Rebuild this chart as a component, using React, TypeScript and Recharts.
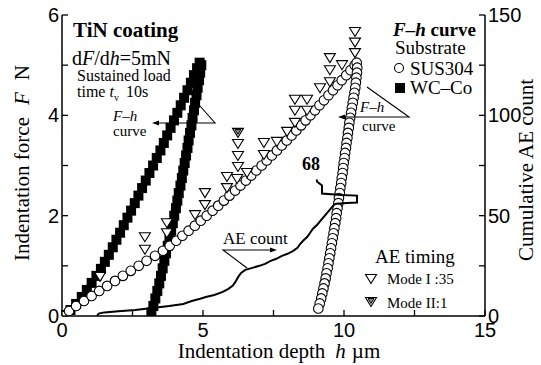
import React from 'react';
import { ComposedChart, Scatter, XAxis, YAxis } from 'recharts';

const SANS = "'Liberation Sans', Arial, sans-serif";
const SERIF = "'Liberation Serif', 'Times New Roman', serif";

// axes
const depthTicks = [0, 2.5, 5, 7.5, 10, 12.5, 15];
const depthLabels = [0, 5, 10, 15];
const topTicks = [5, 10];
const forceTicks = [0, 1, 2, 3, 4, 5, 6];
const forceLabels = [0, 2, 4, 6];
const countTicks = [0, 25, 50, 75, 100, 125, 150];
const countLabels = [0, 50, 100, 150];

// SUS304 F-h curve, [h µm, F N]
const susLoading = [
  [0, 0], [0.25, 0.1], [0.5, 0.2], [0.78, 0.3], [1.05, 0.4], [1.32, 0.5], [1.6, 0.6], [1.88, 0.7],
  [2.16, 0.8], [2.44, 0.9], [2.72, 1.0], [3.0, 1.1], [3.3, 1.2], [3.58, 1.3], [3.82, 1.4], [4.05, 1.5],
  [4.27, 1.6], [4.49, 1.7], [4.71, 1.8], [4.92, 1.9], [5.13, 2.0], [5.34, 2.1], [5.54, 2.2], [5.74, 2.3],
  [5.94, 2.4], [6.14, 2.5], [6.33, 2.6], [6.52, 2.7], [6.71, 2.8], [6.89, 2.9], [7.08, 3.0], [7.26, 3.1],
  [7.44, 3.2], [7.62, 3.3], [7.79, 3.4], [7.97, 3.5], [8.14, 3.6], [8.31, 3.7], [8.48, 3.8], [8.64, 3.9],
  [8.81, 4.0], [8.97, 4.1], [9.13, 4.2], [9.29, 4.3], [9.45, 4.4], [9.61, 4.5], [9.77, 4.6], [9.92, 4.7],
  [10.08, 4.8], [10.23, 4.9], [10.38, 5.0], [10.45, 5.05],
];
const susUnloading = [
  [10.47, 4.95], [10.46, 4.85], [10.44, 4.75], [10.42, 4.65], [10.4, 4.55], [10.37, 4.45], [10.34, 4.35],
  [10.31, 4.25], [10.28, 4.15], [10.25, 4.05], [10.22, 3.95], [10.19, 3.85], [10.17, 3.75], [10.14, 3.65],
  [10.12, 3.55], [10.09, 3.45], [10.07, 3.35], [10.04, 3.25], [10.02, 3.15], [9.99, 3.05], [9.97, 2.95],
  [9.95, 2.85], [9.92, 2.75], [9.9, 2.65], [9.87, 2.55], [9.85, 2.45], [9.82, 2.35], [9.8, 2.25],
  [9.77, 2.15], [9.74, 2.05], [9.72, 1.95], [9.69, 1.85], [9.66, 1.75], [9.63, 1.65], [9.6, 1.55],
  [9.57, 1.45], [9.54, 1.35], [9.51, 1.25], [9.48, 1.15], [9.45, 1.05], [9.42, 0.95], [9.38, 0.85],
  [9.35, 0.75], [9.31, 0.65], [9.27, 0.55], [9.23, 0.45], [9.19, 0.35], [9.14, 0.25], [9.09, 0.15],
];

// WC-Co F-h curve
const wcLoading = [
  [0.1, 0.02], [0.3, 0.12], [0.5, 0.24], [0.7, 0.38], [0.88, 0.52], [1.05, 0.66], [1.22, 0.8], [1.38, 0.94],
  [1.52, 1.08], [1.66, 1.22], [1.8, 1.37], [1.93, 1.52], [2.06, 1.66], [2.19, 1.81], [2.32, 1.96], [2.45, 2.1],
  [2.58, 2.25], [2.71, 2.4], [2.84, 2.55], [2.97, 2.7], [3.1, 2.85], [3.23, 3.0], [3.36, 3.15], [3.49, 3.3],
  [3.61, 3.45], [3.73, 3.6], [3.85, 3.75], [3.97, 3.9], [4.09, 4.05], [4.21, 4.2], [4.33, 4.35], [4.45, 4.5],
  [4.57, 4.65], [4.68, 4.8], [4.79, 4.94], [4.88, 5.05],
];
const wcUnloading = [
  [4.94, 5.0], [4.9, 4.85], [4.86, 4.7], [4.81, 4.55], [4.77, 4.4], [4.72, 4.25], [4.68, 4.1], [4.63, 3.95],
  [4.59, 3.8], [4.54, 3.65], [4.49, 3.5], [4.45, 3.35], [4.4, 3.2], [4.35, 3.05], [4.3, 2.9], [4.25, 2.75],
  [4.2, 2.6], [4.14, 2.45], [4.09, 2.3], [4.04, 2.15], [3.98, 2.0], [3.93, 1.85], [3.87, 1.7], [3.81, 1.55],
  [3.75, 1.4], [3.69, 1.25], [3.63, 1.1], [3.57, 0.95], [3.51, 0.8], [3.45, 0.65], [3.38, 0.5], [3.31, 0.35],
  [3.24, 0.2], [3.17, 0.07],
];

// AE timing events
const modeI = [
  [10.39, 5.66], [10.39, 5.45], [10.39, 5.24], [9.5, 5.14], [9.93, 5.0], [9.5, 4.9], [9.5, 4.66], [9.15, 4.54],
  [8.26, 4.31], [8.69, 4.31], [8.26, 4.09], [8.69, 4.09], [8.26, 3.85], [7.98, 3.67], [7.16, 3.45], [7.62, 3.47],
  [7.16, 3.21], [6.24, 3.43], [6.24, 3.19], [6.24, 2.97], [6.56, 2.85], [5.85, 2.77], [6.21, 2.73], [5.85, 2.55],
  [5.07, 2.45], [5.07, 2.21], [4.72, 2.01], [3.72, 1.85], [3.72, 1.65], [2.94, 1.57], [2.94, 1.32], [1.35, 0.78],
];
const modeII = [[6.24, 3.65]];

// cumulative AE count, [h µm, count]
const aeCount = [
  [1.24, 0], [1.3, 1.2], [1.5, 1.8], [2.0, 2.4], [2.6, 3.0], [3.2, 4.0], [3.8, 5.0], [4.3, 6.0], [4.6, 7.5],
  [4.9, 8.6], [5.1, 9.5], [5.4, 10.5], [5.7, 12], [5.9, 13.5], [6.05, 15], [6.15, 17], [6.25, 19.5],
  [6.35, 21.5], [6.5, 23], [6.75, 24], [7.0, 25], [7.2, 26], [7.4, 27.5], [7.6, 28.5], [7.8, 30], [8.0, 31],
  [8.2, 32.5], [8.35, 34], [8.45, 36], [8.55, 37.5], [8.7, 39.5], [8.8, 41.5], [8.9, 43.5], [9.05, 45.5],
  [9.2, 48], [9.35, 50.5], [9.5, 53], [9.65, 55.5], [9.75, 56], [10.1, 56.3], [10.46, 56.5], [10.46, 59],
  [10.46, 60], [9.9, 60.3], [9.22, 61], [9.22, 65], [9.04, 67], [9.04, 68],
];

const toFH = (a: number[][]) => a.map(([h, F]) => ({ h, F }));
const toHC = (a: number[][]) => a.map(([h, c]) => ({ h, c }));

const tri = (cx: number, cy: number, w: number, hh: number) =>
  `${cx - w / 2},${cy - hh / 2} ${cx + w / 2},${cy - hh / 2} ${cx},${cy + hh / 2}`;

const OpenCircle = (p: any) => (
  <circle cx={p.cx} cy={p.cy} r={4.8} fill="#fff" stroke="#000" strokeWidth={1.1} />
);
const FilledSquare = (p: any) => <rect x={p.cx - 5} y={p.cy - 5} width={10} height={10} fill="#000" />;
const DownTri = (p: any) => (
  <polygon points={tri(p.cx, p.cy, 11, 9)} fill="#fff" stroke="#000" strokeWidth={1.1} />
);
const DoubleTri = (p: any) => (
  <g>
    <polygon points={tri(p.cx, p.cy, 11, 9)} fill="#fff" stroke="#000" strokeWidth={1.1} />
    <polygon points={tri(p.cx, p.cy - 1, 6, 5)} fill="#888" stroke="#000" strokeWidth={1} />
  </g>
);
const NoDot = () => <g />;

function BottomTick({ x, y, payload }: any) {
  const v = payload.value;
  return (
    <g>
      <line x1={x} y1={y} x2={x} y2={y - 6} stroke="#000" strokeWidth={1.3} />
      {depthLabels.includes(v) && (
        <text x={x} y={y + 21} textAnchor="middle" fontFamily={SANS} fontSize={20} fill="#000">{v}</text>
      )}
    </g>
  );
}

function TopTick({ x, y }: any) {
  return <line x1={x} y1={y} x2={x} y2={y + 6} stroke="#000" strokeWidth={1.3} />;
}

function LeftTick({ x, y, payload }: any) {
  const v = payload.value;
  return (
    <g>
      <line x1={x} y1={y} x2={x + 6} y2={y} stroke="#000" strokeWidth={1.3} />
      {forceLabels.includes(v) && (
        <text x={x - 3} y={y + 7} textAnchor="end" fontFamily={SANS} fontSize={20} fill="#000">{v}</text>
      )}
    </g>
  );
}

function RightTick({ x, y, payload }: any) {
  const v = payload.value;
  return (
    <g>
      <line x1={x} y1={y} x2={x - 6} y2={y} stroke="#000" strokeWidth={1.3} />
      {countLabels.includes(v) && (
        <text x={x + 3} y={y + 7} textAnchor="start" fontFamily={SANS} fontSize={20} fill="#000">{v}</text>
      )}
    </g>
  );
}

const axisLine = { stroke: '#000', strokeWidth: 1.5 };

export default function App() {
  return (
    <div style={{ position: 'absolute', left: 0, top: 0, width: 541, height: 365, background: '#fff' }}>
      <ComposedChart width={541} height={365} margin={{ top: 15, right: 0, bottom: 0, left: 0 }}>
        <XAxis
          xAxisId="d" dataKey="h" type="number" domain={[0, 15]} ticks={depthTicks} allowDataOverflow
          height={49} tickSize={0} tickMargin={0} tickLine={false} axisLine={axisLine} tick={<BottomTick />}
        />
        <XAxis
          xAxisId="top" orientation="top" dataKey="h" type="number" domain={[0, 15]} ticks={topTicks}
          allowDataOverflow height={0} tickSize={0} tickMargin={0} tickLine={false} axisLine={axisLine}
          tick={<TopTick />}
        />
        <YAxis
          yAxisId="F" type="number" domain={[0, 6]} ticks={forceTicks} allowDataOverflow width={62}
          tickSize={0} tickMargin={0} tickLine={false} axisLine={axisLine} tick={<LeftTick />}
        />
        <YAxis
          yAxisId="c" orientation="right" type="number" domain={[0, 150]} ticks={countTicks} allowDataOverflow
          width={56} tickSize={0} tickMargin={0} tickLine={false} axisLine={axisLine} tick={<RightTick />}
        />
        <Scatter xAxisId="d" yAxisId="F" data={toFH(wcLoading)} dataKey="F" shape={FilledSquare} isAnimationActive={false} />
        <Scatter xAxisId="d" yAxisId="F" data={toFH(wcUnloading)} dataKey="F" shape={FilledSquare} isAnimationActive={false} />
        <Scatter xAxisId="d" yAxisId="F" data={toFH(susLoading)} dataKey="F" shape={OpenCircle} isAnimationActive={false} />
        <Scatter xAxisId="d" yAxisId="F" data={toFH(susUnloading)} dataKey="F" shape={OpenCircle} isAnimationActive={false} />
        <Scatter
          xAxisId="d" yAxisId="c" data={toHC(aeCount)} dataKey="c" shape={NoDot}
          line={{ stroke: '#000', strokeWidth: 2 }} isAnimationActive={false}
        />
        <Scatter xAxisId="d" yAxisId="F" data={toFH(modeI)} dataKey="F" shape={DownTri} isAnimationActive={false} />
        <Scatter xAxisId="d" yAxisId="F" data={toFH(modeII)} dataKey="F" shape={DoubleTri} isAnimationActive={false} />
      </ComposedChart>

      <svg width={541} height={365} style={{ position: 'absolute', left: 0, top: 0, pointerEvents: 'none' }}>
        <g fontFamily={SERIF} fill="#000">
          {/* axis titles */}
          <text x={279} y={358} fontSize={21} textAnchor="middle">
            Indentation depth<tspan dx={10} fontStyle="italic">h</tspan><tspan dx={6}>µm</tspan>
          </text>
          <text transform="translate(29,163) rotate(-90)" fontSize={21} textAnchor="middle">
            Indentation force<tspan dx={12} fontStyle="italic">F</tspan><tspan dx={12}>N</tspan>
          </text>
          <text transform="translate(533,170) rotate(-90)" fontSize={21} textAnchor="middle">
            Cumulative AE count
          </text>

          {/* test conditions */}
          <text x={73} y={37} fontSize={21} fontWeight="bold">TiN coating</text>
          <text x={72} y={65} fontSize={20}>
            d<tspan fontStyle="italic">F</tspan>/d<tspan fontStyle="italic">h</tspan>=5mN
          </text>
          <text x={77} y={81} fontSize={16}>Sustained load</text>
          <text x={77} y={97} fontSize={16}>
            time <tspan fontStyle="italic">t</tspan>
            <tspan fontSize={10} dy={4}>v</tspan>
            <tspan dy={-4} dx={7}>10s</tspan>
          </text>

          {/* F-h pointers */}
          <text x={113} y={121} fontSize={15} fontStyle="italic">F–h</text>
          <text x={113} y={136} fontSize={15}>curve</text>
          <text x={360} y={112} fontSize={15} fontStyle="italic">F–h</text>
          <text x={362} y={131} fontSize={15}>curve</text>

          <text x={223} y={244} fontSize={17}>AE count</text>
          <text x={311} y={170} fontSize={18} fontWeight="bold" textAnchor="middle">68</text>

          {/* substrate legend */}
          <text x={393} y={36} fontSize={19} fontWeight="bold">
            <tspan fontStyle="italic">F–h</tspan> curve
          </text>
          <text x={395} y={54} fontSize={19}>Substrate</text>
          <text x={410} y={75} fontSize={19}>SUS304</text>
          <text x={410} y={94} fontSize={19}>WC–Co</text>

          {/* AE timing legend */}
          <text x={375} y={263} fontSize={19}>AE timing</text>
          <text x={387} y={284} fontSize={15}>Mode I :35</text>
          <text x={387} y={308} fontSize={15}>Mode II:1</text>
        </g>

        <circle cx={399} cy={68} r={4.5} fill="#fff" stroke="#000" strokeWidth={1.1} />
        <rect x={395} y={83} width={10} height={10} fill="#000" />
        <polygon points={tri(371, 279, 11, 9)} fill="#fff" stroke="#000" strokeWidth={1.1} />
        <polygon points={tri(371, 302, 11, 9)} fill="#fff" stroke="#000" strokeWidth={1.1} />
        <polygon points={tri(371, 301, 6, 5)} fill="#888" stroke="#000" strokeWidth={1} />

        <g stroke="#000" strokeWidth={1.1} fill="none">
          <polyline points="200,106 215,123 158,123" />
          <polyline points="367,87 409,117 344,117" />
          <polyline points="247,268 223,250 270,250" />
        </g>
        <g fill="#000">
          <polygon points="152,123 159,120.5 159,125.5" />
          <polygon points="338,117 345,114.5 345,119.5" />
          <polygon points="277,250 270,247.5 270,252.5" />
        </g>
      </svg>
    </div>
  );
}
